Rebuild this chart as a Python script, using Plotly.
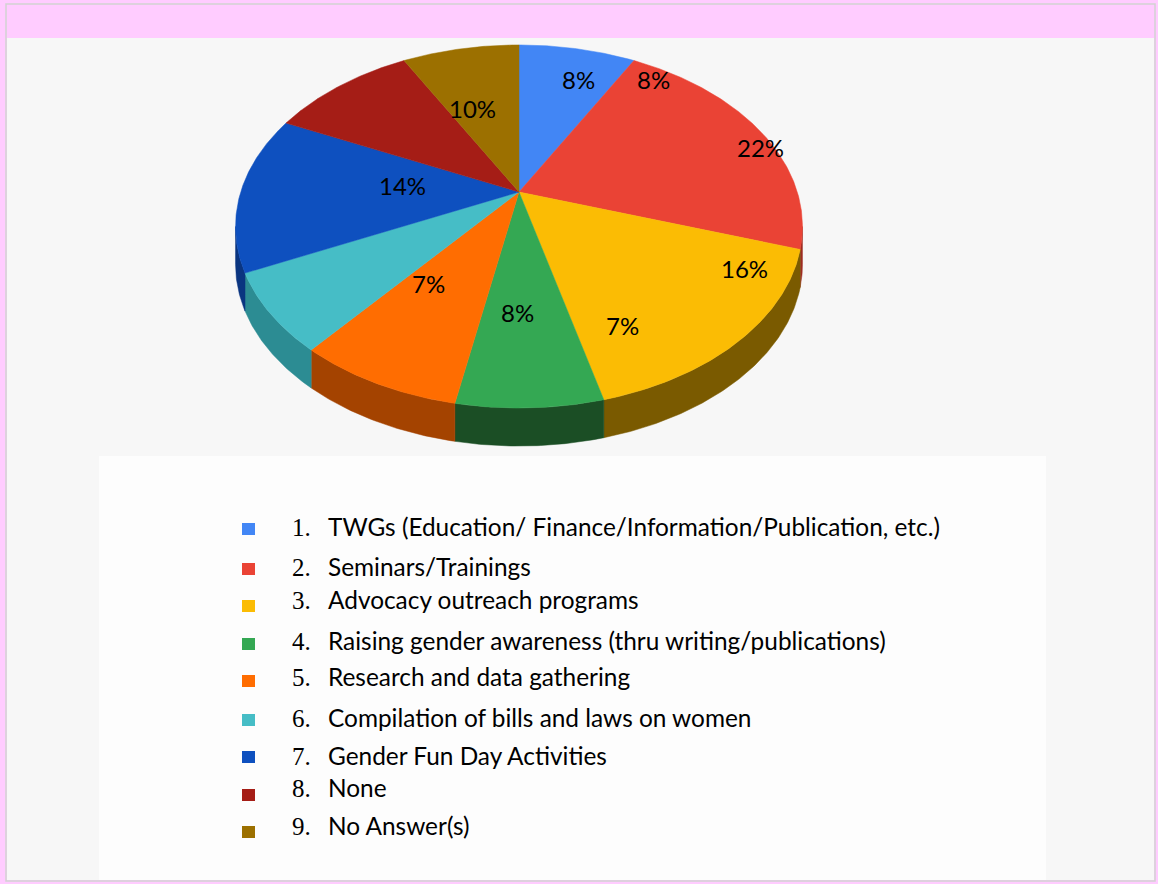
import numpy as np
import plotly.graph_objects as go

# ---------------- data ----------------
categories = [
    "TWGs (Education/ Finance/Information/Publication, etc.)",
    "Seminars/Trainings",
    "Advocacy outreach programs",
    "Raising gender awareness (thru writing/publications)",
    "Research and data gathering",
    "Compilation of bills and laws on women",
    "Gender Fun Day Activities",
    "None",
    "No Answer(s)",
]
legend_numbers = ["1.", "2.", "3.", "4.", "5.", "6.", "7.", "8.", "9."]
values = [8, 22, 16, 7, 8, 7, 14, 10, 8]
# percentage texts exactly as printed on the picture
pct_labels = ["8%", "8%", "22%", "16%", "7%", "8%", "7%", "14%", "10%"]

# ---------------- styles / layout positions ----------------
top_colors = ["#4286F5", "#EA4335", "#FBBC04", "#34A853", "#FF6D01",
              "#46BDC6", "#0E50BF", "#A51D16", "#9C7000"]
side_colors = ["#2A5BA8", "#9E2C22", "#7A5A00", "#1B4E25", "#A44300",
               "#2C8C93", "#0A3580", "#6E130E", "#664A00"]
pct_label_pos = [(578, 79), (653, 79), (760, 147), (744, 268), (622, 325),
                 (517, 312), (428, 283), (402, 185), (472, 108)]
legend_rows_y = [526, 566, 599, 640, 676, 717, 755, 787, 825]
legend_box_y = [529, 569, 606, 644, 681, 720, 757, 795, 832]

W, H = 1158, 884
CX, CY = 519, 192      # pie apex (centre of the circle in perspective)
A, B, K = 278.3, 175.0, 0.19
DEPTH = 38


def ring(theta_deg):
    t = np.radians(theta_deg)
    u = np.sin(t)
    v = -np.cos(t)
    w = 1 - K * v
    return CX + A * u / w, CY + B * v / w


vis_right = np.degrees(np.arctan2(np.sqrt(1 - K * K), -K))
vis_left = 360 - vis_right

total = float(sum(values))
bounds = np.concatenate([[0], np.cumsum(values) / total * 360.0])

fig = go.Figure()

# side walls (front half only)
for i in range(len(values)):
    lo = max(bounds[i], vis_right)
    hi = min(bounds[i + 1], vis_left)
    if lo >= hi:
        continue
    th = np.linspace(lo, hi, max(3, int((hi - lo) * 2)))
    xs, ys = ring(th)
    px = np.concatenate([xs, xs[::-1], xs[:1]])
    py = np.concatenate([ys, ys[::-1] + DEPTH, ys[:1]])
    fig.add_trace(go.Scatter(x=px, y=py, mode="lines", fill="toself",
                             fillcolor=side_colors[i],
                             line=dict(color=side_colors[i], width=0.5),
                             hoverinfo="skip", showlegend=False))

# top faces
for i in range(len(values)):
    th = np.linspace(bounds[i], bounds[i + 1], max(3, int(values[i] * 8)))
    xs, ys = ring(th)
    px = np.concatenate([[CX], xs, [CX]])
    py = np.concatenate([[CY], ys, [CY]])
    fig.add_trace(go.Scatter(x=px, y=py, mode="lines", fill="toself",
                             fillcolor=top_colors[i],
                             line=dict(color=top_colors[i], width=0.5),
                             hoverinfo="skip", showlegend=False))

shapes = [
    # pink frame with grey rule
    dict(type="rect", xref="x", yref="y", x0=6, y0=4, x1=1155, y1=881,
         fillcolor="#FFCCFF", line=dict(color="#D2D2D2", width=1.5), layer="below"),
    dict(type="rect", xref="x", yref="y", x0=7, y0=38, x1=1154, y1=880,
         fillcolor="#F7F7F7", line=dict(width=0), layer="below"),
    # legend panel
    dict(type="rect", xref="x", yref="y", x0=99, y0=456, x1=1046, y1=880,
         fillcolor="#FDFDFD", line=dict(width=0), layer="below"),
]
for i, yb in enumerate(legend_box_y):
    shapes.append(dict(type="rect", xref="x", yref="y", x0=242, x1=255,
                       y0=yb - 6, y1=yb + 6, fillcolor=top_colors[i],
                       line=dict(width=0), layer="above"))

annotations = []
for txt, (x, y) in zip(pct_labels, pct_label_pos):
    annotations.append(dict(x=x, y=y, xref="x", yref="y", text=txt,
                            showarrow=False, xanchor="center", yanchor="middle",
                            font=dict(family="Lato", size=24, color="#000000")))
for num, cat, y in zip(legend_numbers, categories, legend_rows_y):
    annotations.append(dict(x=290, y=y + 1, xref="x", yref="y", text=num,
                            showarrow=False, xanchor="left", yanchor="middle",
                            font=dict(family="Liberation Serif", size=25, color="#000000")))
    annotations.append(dict(x=326, y=y, xref="x", yref="y", text=cat,
                            showarrow=False, xanchor="left", yanchor="middle",
                            font=dict(family="Lato", size=24.4, color="#000000")))

fig.update_layout(
    width=W, height=H,
    margin=dict(l=0, r=0, t=0, b=0),
    paper_bgcolor="#FFCCFF",
    plot_bgcolor="rgba(0,0,0,0)",
    xaxis=dict(range=[0, W], visible=False, fixedrange=True),
    yaxis=dict(range=[H, 0], visible=False, fixedrange=True),
    shapes=shapes,
    annotations=annotations,
    showlegend=False,
)

fig.write_html("out.html", config={"displayModeBar": False},
               post_script="document.body.style.margin='0';document.body.style.overflow='hidden';")
